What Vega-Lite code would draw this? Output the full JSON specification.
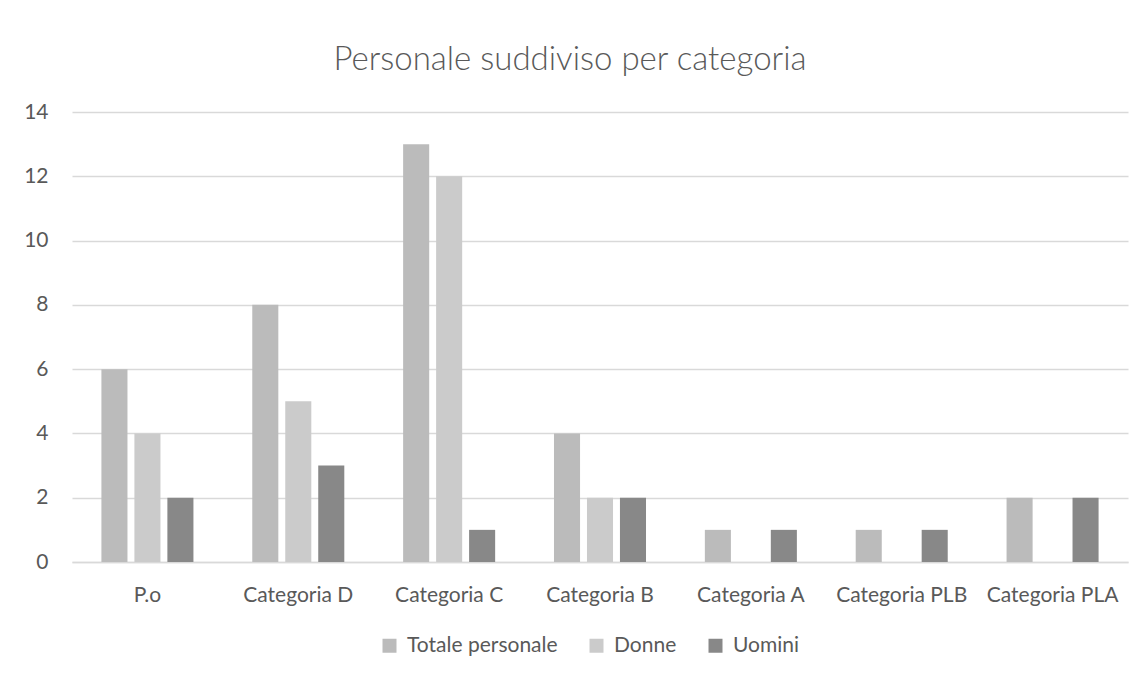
{
  "$schema": "https://vega.github.io/schema/vega-lite/v6.json",
  "width": 1056,
  "height": 450,
  "autosize": "none",
  "padding": {"left": 72, "top": 112, "right": 19, "bottom": 115},
  "background": "white",
  "title": {
    "text": "Personale suddiviso per categoria",
    "font": "Lato",
    "fontSize": 33,
    "fontWeight": 300,
    "color": "#595959",
    "offset": 24,
    "dx": -30,
    "anchor": "middle"
  },
  "data": {
    "values": [
      {"categoria": "P.o", "serie": "Totale personale", "valore": 6},
      {"categoria": "P.o", "serie": "Donne", "valore": 4},
      {"categoria": "P.o", "serie": "Uomini", "valore": 2},
      {"categoria": "Categoria D", "serie": "Totale personale", "valore": 8},
      {"categoria": "Categoria D", "serie": "Donne", "valore": 5},
      {"categoria": "Categoria D", "serie": "Uomini", "valore": 3},
      {"categoria": "Categoria C", "serie": "Totale personale", "valore": 13},
      {"categoria": "Categoria C", "serie": "Donne", "valore": 12},
      {"categoria": "Categoria C", "serie": "Uomini", "valore": 1},
      {"categoria": "Categoria B", "serie": "Totale personale", "valore": 4},
      {"categoria": "Categoria B", "serie": "Donne", "valore": 2},
      {"categoria": "Categoria B", "serie": "Uomini", "valore": 2},
      {"categoria": "Categoria A", "serie": "Totale personale", "valore": 1},
      {"categoria": "Categoria A", "serie": "Donne", "valore": 0},
      {"categoria": "Categoria A", "serie": "Uomini", "valore": 1},
      {"categoria": "Categoria PLB", "serie": "Totale personale", "valore": 1},
      {"categoria": "Categoria PLB", "serie": "Donne", "valore": 0},
      {"categoria": "Categoria PLB", "serie": "Uomini", "valore": 1},
      {"categoria": "Categoria PLA", "serie": "Totale personale", "valore": 2},
      {"categoria": "Categoria PLA", "serie": "Donne", "valore": 0},
      {"categoria": "Categoria PLA", "serie": "Uomini", "valore": 2}
    ]
  },
  "mark": {"type": "bar"},
  "encoding": {
    "x": {
      "field": "categoria",
      "type": "nominal",
      "sort": ["P.o", "Categoria D", "Categoria C", "Categoria B", "Categoria A", "Categoria PLB", "Categoria PLA"],
      "scale": {"paddingInner": 0.39, "paddingOuter": 0.195},
      "axis": {
        "title": null,
        "labelAngle": 0,
        "labelFont": "Lato",
        "labelFontSize": 21,
        "labelColor": "#595959",
        "labelPadding": 22,
        "ticks": false,
        "domainColor": "#d9d9d9",
        "domainWidth": 1.5,
        "grid": false
      }
    },
    "xOffset": {
      "field": "serie",
      "type": "nominal",
      "sort": ["Totale personale", "Donne", "Uomini"],
      "scale": {"paddingInner": 0.21, "paddingOuter": 0}
    },
    "y": {
      "field": "valore",
      "type": "quantitative",
      "scale": {"domain": [0, 14], "nice": false},
      "axis": {
        "title": null,
        "values": [0, 2, 4, 6, 8, 10, 12, 14],
        "labelFont": "Lato",
        "labelFontSize": 21,
        "labelColor": "#595959",
        "labelPadding": 24,
        "ticks": false,
        "domain": false,
        "gridColor": "#d9d9d9",
        "gridWidth": 1.5
      }
    },
    "color": {
      "field": "serie",
      "type": "nominal",
      "sort": ["Totale personale", "Donne", "Uomini"],
      "scale": {
        "domain": ["Totale personale", "Donne", "Uomini"],
        "range": ["#bbbbbb", "#cbcbcb", "#888888"]
      },
      "legend": {
        "title": null,
        "orient": "none",
        "direction": "horizontal",
        "legendX": 307,
        "legendY": 523,
        "symbolType": "square",
        "symbolSize": 196,
        "symbolStrokeWidth": 0,
        "labelFont": "Lato",
        "labelFontSize": 21,
        "labelColor": "#595959",
        "labelOffset": 7,
        "columnPadding": 28
      }
    }
  },
  "config": {
    "view": {"stroke": null}
  }
}
